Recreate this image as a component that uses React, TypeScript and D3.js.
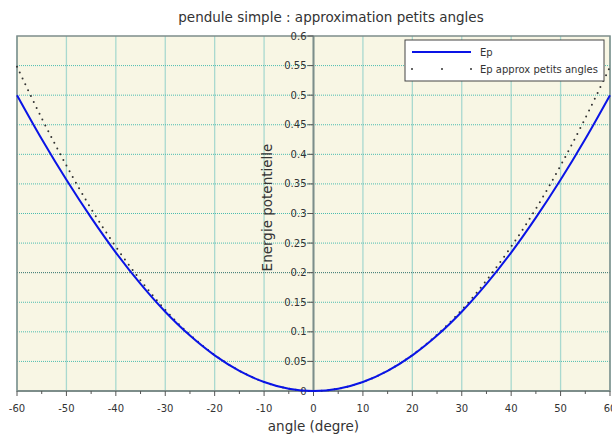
import React, { useEffect, useRef } from "react";
import * as d3 from "d3";

// angle in degrees
const angles = [-60, -55, -50, -45, -40, -35, -30, -25, -20, -15, -10, -5, 0, 5, 10, 15, 20, 25, 30, 35, 40, 45, 50, 55, 60];
const epValues = [0.5, 0.426, 0.357, 0.293, 0.234, 0.181, 0.134, 0.0937, 0.0603, 0.0341, 0.0152, 0.0038, 0, 0.0038, 0.0152, 0.0341, 0.0603, 0.0937, 0.134, 0.181, 0.234, 0.293, 0.357, 0.426, 0.5];
const epApproxValues = [0.548, 0.461, 0.381, 0.308, 0.244, 0.187, 0.137, 0.0952, 0.0609, 0.0343, 0.0152, 0.0038, 0, 0.0038, 0.0152, 0.0343, 0.0609, 0.0952, 0.137, 0.187, 0.244, 0.308, 0.381, 0.461, 0.548];
const xTicks = [-60, -50, -40, -30, -20, -10, 0, 10, 20, 30, 40, 50, 60];
const xMinorTicks = [-55, -45, -35, -25, -15, -5, 5, 15, 25, 35, 45, 55];
const yTicks = [0, 0.05, 0.1, 0.15, 0.2, 0.25, 0.3, 0.35, 0.4, 0.45, 0.5, 0.55, 0.6];

const App = () => {
  const ref = useRef<SVGSVGElement>(null);

  useEffect(() => {
    const svg = d3.select(ref.current);
    svg.selectAll("*").remove();

    const left = 17, right = 610, top = 36, bottom = 391;
    const font = "DejaVu Sans, Verdana, sans-serif";

    const x = d3.scaleLinear().domain([-60, 60]).range([left, right]);
    const y = d3.scaleLinear().domain([0, 0.6]).range([bottom, top]);

    svg.append("rect")
      .attr("x", left).attr("y", top)
      .attr("width", right - left).attr("height", bottom - top)
      .attr("fill", "#f8f6e4");

    // vertical grid
    svg.append("g")
      .selectAll("line")
      .data(xTicks)
      .enter()
      .append("line")
      .attr("x1", (d) => x(d)).attr("x2", (d) => x(d))
      .attr("y1", top).attr("y2", bottom)
      .attr("stroke", "#a9d9cf")
      .attr("stroke-width", 1.3);

    // horizontal grid (dotted)
    svg.append("g")
      .selectAll("line")
      .data(yTicks.slice(1, -1))
      .enter()
      .append("line")
      .attr("x1", left).attr("x2", right)
      .attr("y1", (d) => y(d)).attr("y2", (d) => y(d))
      .attr("stroke", (d) => (Math.abs(d - 0.2) < 1e-6 ? "#2f6f6a" : "#4dbcb0"))
      .attr("stroke-width", 1)
      .attr("stroke-dasharray", "1,1");

    // border
    svg.append("rect")
      .attr("x", left).attr("y", top)
      .attr("width", right - left).attr("height", bottom - top)
      .attr("fill", "none")
      .attr("stroke", "#7d8d8a")
      .attr("stroke-width", 1.5);

    // x axis
    const xAxis = svg.append("g");
    xAxis.append("line")
      .attr("x1", left).attr("x2", right)
      .attr("y1", bottom).attr("y2", bottom)
      .attr("stroke", "#7d8d8a").attr("stroke-width", 2);
    xAxis.selectAll(".maj")
      .data(xTicks)
      .enter()
      .append("line")
      .attr("x1", (d) => x(d)).attr("x2", (d) => x(d))
      .attr("y1", bottom).attr("y2", bottom + 5)
      .attr("stroke", "#555");
    xAxis.selectAll(".min")
      .data(xMinorTicks)
      .enter()
      .append("line")
      .attr("x1", (d) => x(d)).attr("x2", (d) => x(d))
      .attr("y1", bottom).attr("y2", bottom + 3)
      .attr("stroke", "#555");
    xAxis.selectAll("text")
      .data(xTicks)
      .enter()
      .append("text")
      .attr("x", (d) => x(d))
      .attr("y", bottom + 21)
      .attr("text-anchor", "middle")
      .attr("font-family", font)
      .attr("font-size", 10)
      .attr("fill", "#333")
      .text((d) => String(d));

    // y axis at x = 0
    const yAxis = svg.append("g");
    yAxis.append("line")
      .attr("x1", x(0)).attr("x2", x(0))
      .attr("y1", top).attr("y2", bottom)
      .attr("stroke", "#7d8d8a").attr("stroke-width", 2);
    yAxis.selectAll("line.t")
      .data(yTicks)
      .enter()
      .append("line")
      .attr("class", "t")
      .attr("x1", x(0) - 6).attr("x2", x(0))
      .attr("y1", (d) => y(d)).attr("y2", (d) => y(d))
      .attr("stroke", "#555");
    yAxis.selectAll("text")
      .data(yTicks)
      .enter()
      .append("text")
      .attr("x", x(0) - 7)
      .attr("y", (d) => y(d) + 3.5)
      .attr("text-anchor", "end")
      .attr("font-family", font)
      .attr("font-size", 10)
      .attr("fill", "#333")
      .text((d) => String(d));

    const line = d3.line<number>()
      .x((d, i) => x(angles[i]))
      .y((d) => y(d))
      .curve(d3.curveCatmullRom);

    svg.append("path")
      .datum(epApproxValues)
      .attr("d", line)
      .attr("fill", "none")
      .attr("stroke", "#333")
      .attr("stroke-width", 2)
      .attr("stroke-linecap", "round")
      .attr("stroke-dasharray", "0,6.5");

    svg.append("path")
      .datum(epValues)
      .attr("d", line)
      .attr("fill", "none")
      .attr("stroke", "#0a14e6")
      .attr("stroke-width", 2);

    // titles
    svg.append("text")
      .attr("x", 331).attr("y", 22)
      .attr("text-anchor", "middle")
      .attr("font-family", font)
      .attr("font-size", 13.5)
      .attr("fill", "#333")
      .text("pendule simple : approximation petits angles");

    svg.append("text")
      .attr("x", x(0)).attr("y", 431)
      .attr("text-anchor", "middle")
      .attr("font-family", font)
      .attr("font-size", 13.5)
      .attr("fill", "#333")
      .text("angle (degre)");

    svg.append("text")
      .attr("transform", `translate(272, ${(top + bottom) / 2 - 6}) rotate(-90)`)
      .attr("text-anchor", "middle")
      .attr("font-family", font)
      .attr("font-size", 13.5)
      .attr("fill", "#333")
      .text("Energie potentielle");

    // legend
    const lg = svg.append("g");
    lg.append("rect")
      .attr("x", 405).attr("y", 40)
      .attr("width", 199).attr("height", 41)
      .attr("fill", "white")
      .attr("stroke", "#444")
      .attr("stroke-width", 1);
    lg.append("line")
      .attr("x1", 412).attr("x2", 471)
      .attr("y1", 52).attr("y2", 52)
      .attr("stroke", "#0a14e6").attr("stroke-width", 2);
    lg.append("text")
      .attr("x", 480).attr("y", 56)
      .attr("font-family", font).attr("font-size", 10)
      .attr("fill", "#333")
      .text("Ep");
    lg.selectAll("circle")
      .data([412, 442, 471])
      .enter()
      .append("circle")
      .attr("cx", (d) => d).attr("cy", 69)
      .attr("r", 1)
      .attr("fill", "#333");
    lg.append("text")
      .attr("x", 480).attr("y", 73)
      .attr("font-family", font).attr("font-size", 10)
      .attr("fill", "#333")
      .text("Ep approx petits angles");
  }, []);

  return <svg ref={ref} width={612} height={436} style={{ position: "absolute", left: 0, top: 0 }}></svg>;
};

export default App;
